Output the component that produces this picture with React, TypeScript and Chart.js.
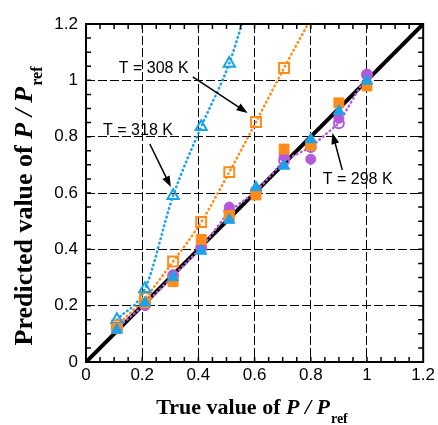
import React, { useEffect, useRef } from 'react';
import { Chart, registerables } from 'chart.js';
Chart.register(...registerables);

// ---- data ----
const AXIS_TICKS = [0, 0.2, 0.4, 0.6, 0.8, 1.0, 1.2];
const AXIS_TICK_LABELS = ['0', '0.2', '0.4', '0.6', '0.8', '1', '1.2'];
const TRUE_X = [0.11, 0.21, 0.31, 0.41, 0.51, 0.605, 0.705, 0.8, 0.9, 1.0];

// T = 318 K (open cyan triangles, dotted fit)
const T318_OPEN_Y = [0.15, 0.26, 0.59, 0.835, 1.06];
const T318_FIT_END = [0.555, 1.2];
// T = 308 K (open orange squares, dotted fit)
const T308_OPEN_Y = [0.13, 0.227, 0.357, 0.497, 0.674, 0.852, 1.044];
const T308_FIT_END = [0.79, 1.2];
// T = 298 K (open purple circles, dotted fit)
const T298_OPEN_Y = [0.12, 0.205, 0.305, 0.405, 0.535, 0.605, 0.715, 0.763, 0.848, 1.02];
// filled markers
const CYAN_FILLED_Y = [0.114, 0.21, 0.3, 0.394, 0.504, 0.62, 0.696, 0.79, 0.89, 0.998];
const ORANGE_FILLED_Y = [0.12, 0.21, 0.285, 0.435, 0.52, 0.593, 0.756, 0.77, 0.92, 0.98];
const PURPLE_FILLED_Y = [0.12, 0.2, 0.31, 0.41, 0.55, 0.61, 0.73, 0.72, 0.865, 1.022];
// identity line
const IDENTITY_X = [0, 1.2];

const LABEL_318 = 'T = 318 K';
const LABEL_308 = 'T = 308 K';
const LABEL_298 = 'T = 298 K';

const CYAN = '#1aa3e8';
const ORANGE = '#ff8c1a';
const PURPLE = '#b45ad8';

const pts = (ys: number[]) => ys.map((y, i) => ({ x: TRUE_X[i], y }));

const SANS = '"Liberation Sans", Arial, sans-serif';
const SERIF = '"Liberation Serif", "Times New Roman", serif';

const overlay = {
  id: 'overlay',
  afterDraw(chart: any) {
    const { ctx, chartArea: a, scales } = chart;
    const xs = scales.x, ys = scales.y;
    const px = (v: number) => xs.getPixelForValue(v);
    const py = (v: number) => ys.getPixelForValue(v);
    ctx.save();
    // frame
    ctx.strokeStyle = '#000';
    ctx.lineWidth = 2;
    ctx.strokeRect(a.left, a.top, a.right - a.left, a.bottom - a.top);
    // inward ticks every 0.05
    ctx.lineWidth = 1.5;
    ctx.beginPath();
    for (let k = 1; k < 24; k++) {
      const v = k * 0.05;
      const X = px(v), Y = py(v);
      const len = 5;
      ctx.moveTo(X, a.bottom); ctx.lineTo(X, a.bottom - len);
      ctx.moveTo(X, a.top); ctx.lineTo(X, a.top + len);
      ctx.moveTo(a.left, Y); ctx.lineTo(a.left + len, Y);
      ctx.moveTo(a.right, Y); ctx.lineTo(a.right - len, Y);
    }
    ctx.stroke();

    // annotations
    const arrow = (x1: number, y1: number, x2: number, y2: number) => {
      const X1 = px(x1), Y1 = py(y1), X2 = px(x2), Y2 = py(y2);
      const ang = Math.atan2(Y2 - Y1, X2 - X1);
      const hl = 11, hw = 4;
      ctx.strokeStyle = '#000';
      ctx.lineWidth = 1.5;
      ctx.beginPath();
      ctx.moveTo(X1, Y1);
      ctx.lineTo(X2 - Math.cos(ang) * hl * 0.8, Y2 - Math.sin(ang) * hl * 0.8);
      ctx.stroke();
      ctx.fillStyle = '#000';
      ctx.beginPath();
      ctx.moveTo(X2, Y2);
      ctx.lineTo(X2 - Math.cos(ang) * hl + Math.sin(ang) * hw, Y2 - Math.sin(ang) * hl - Math.cos(ang) * hw);
      ctx.lineTo(X2 - Math.cos(ang) * hl - Math.sin(ang) * hw, Y2 - Math.sin(ang) * hl + Math.cos(ang) * hw);
      ctx.closePath();
      ctx.fill();
    };
    ctx.fillStyle = '#000';
    ctx.font = `16px ${SANS}`;
    ctx.textAlign = 'center';
    ctx.textBaseline = 'middle';
    ctx.fillText(LABEL_308, px(0.241), py(1.042));
    ctx.fillText(LABEL_318, px(0.185), py(0.822));
    ctx.fillText(LABEL_298, px(0.967), py(0.648));
    arrow(0.38, 1.012, 0.575, 0.884);
    arrow(0.227, 0.774, 0.302, 0.621);
    arrow(0.912, 0.682, 0.877, 0.813);

    // axis titles
    const drawTitle = (cx: number, baseY: number, first: string, size: number) => {
      const fMain = `bold ${size}px ${SERIF}`;
      const fIt = `italic bold ${size}px ${SERIF}`;
      const fSub = `bold ${Math.round(size * 0.62)}px ${SERIF}`;
      ctx.font = fMain; const w1 = ctx.measureText(first).width;
      ctx.font = fIt; const w2 = ctx.measureText('P / P').width;
      ctx.font = fSub; const w3 = ctx.measureText('ref').width;
      const total = w1 + w2 + w3 + 1;
      let x = cx - total / 2;
      ctx.textAlign = 'left';
      ctx.textBaseline = 'alphabetic';
      ctx.font = fMain; ctx.fillText(first, x, baseY); x += w1;
      ctx.font = fIt; ctx.fillText('P / P', x, baseY); x += w2 + 1;
      ctx.font = fSub; ctx.fillText('ref', x, baseY + size * 0.4);
    };
    drawTitle(252, 414, 'True value of ', 22);
    ctx.save();
    ctx.translate(32, 206);
    ctx.rotate(-Math.PI / 2);
    drawTitle(0, 0, 'Predicted value of ', 26);
    ctx.restore();

    ctx.restore();
  },
};

export default function App() {
  const ref = useRef<HTMLCanvasElement>(null);
  useEffect(() => {
    document.body.style.margin = '0';
    const dotted = { borderDash: [0.5, 4], borderWidth: 2.6, borderCapStyle: 'round' };
    const chart = new Chart(ref.current!, {
      type: 'scatter',
      data: {
        datasets: [
          { data: pts(CYAN_FILLED_Y), pointStyle: 'triangle', pointRadius: 6.5, backgroundColor: CYAN, borderColor: CYAN, borderWidth: 1, order: 1 },
          { data: pts(ORANGE_FILLED_Y), pointStyle: 'rect', pointRadius: 7, backgroundColor: ORANGE, borderColor: ORANGE, borderWidth: 1, order: 2 },
          { data: pts(PURPLE_FILLED_Y), pointStyle: 'circle', pointRadius: 5, backgroundColor: PURPLE, borderColor: PURPLE, borderWidth: 1, order: 3 },
          { data: pts(T318_OPEN_Y), pointStyle: 'triangle', pointRadius: 6.5, backgroundColor: 'rgba(0,0,0,0)', borderColor: CYAN, borderWidth: 2, order: 4 },
          { data: pts(T308_OPEN_Y), pointStyle: 'rect', pointRadius: 7, backgroundColor: 'rgba(0,0,0,0)', borderColor: ORANGE, borderWidth: 2, order: 5 },
          { data: pts(T298_OPEN_Y), pointStyle: 'circle', pointRadius: 5, backgroundColor: 'rgba(0,0,0,0)', borderColor: PURPLE, borderWidth: 2, order: 6 },
          { data: [...pts(T318_OPEN_Y), { x: T318_FIT_END[0], y: T318_FIT_END[1] }], showLine: true, pointRadius: 0, borderColor: CYAN, cubicInterpolationMode: 'monotone', ...dotted, order: 7 } as any,
          { data: [...pts(T308_OPEN_Y), { x: T308_FIT_END[0], y: T308_FIT_END[1] }], showLine: true, pointRadius: 0, borderColor: ORANGE, cubicInterpolationMode: 'monotone', ...dotted, order: 8 } as any,
          { data: pts(T298_OPEN_Y), showLine: true, pointRadius: 0, borderColor: PURPLE, ...dotted, order: 9 } as any,
          { data: IDENTITY_X.map((v) => ({ x: v, y: v })), showLine: true, pointRadius: 0, borderColor: '#000', borderWidth: 4, order: 10 },
        ],
      },
      options: {
        animation: false,
        responsive: false,
        events: [],
        layout: { padding: { left: 0, right: 14, top: 24, bottom: 0 } },
        plugins: { legend: { display: false }, tooltip: { enabled: false } },
        scales: {
          x: {
            type: 'linear', min: 0, max: 1.2,
            afterBuildTicks: (s: any) => { s.ticks = AXIS_TICKS.map((v) => ({ value: v })); },
            afterFit: (s: any) => { s.height = 63; },
            ticks: { callback: (_v: any, i: number) => AXIS_TICK_LABELS[i], color: '#000', font: { family: SANS, size: 17 }, padding: 3, maxRotation: 0 },
            grid: { color: '#000', lineWidth: 1, drawTicks: false },
            border: { display: false, dash: [9, 3] },
          },
          y: {
            type: 'linear', min: 0, max: 1.2,
            afterBuildTicks: (s: any) => { s.ticks = AXIS_TICKS.map((v) => ({ value: v })); },
            afterFit: (s: any) => { s.width = 86; },
            ticks: { callback: (_v: any, i: number) => AXIS_TICK_LABELS[i], color: '#000', font: { family: SANS, size: 17 }, padding: 8 },
            grid: { color: '#000', lineWidth: 1, drawTicks: false },
            border: { display: false, dash: [9, 3] },
          },
        },
      },
      plugins: [overlay],
    } as any);
    return () => chart.destroy();
  }, []);
  return (
    <div style={{ width: 438, height: 425 }}>
      <canvas ref={ref} width={438} height={425} />
    </div>
  );
}
